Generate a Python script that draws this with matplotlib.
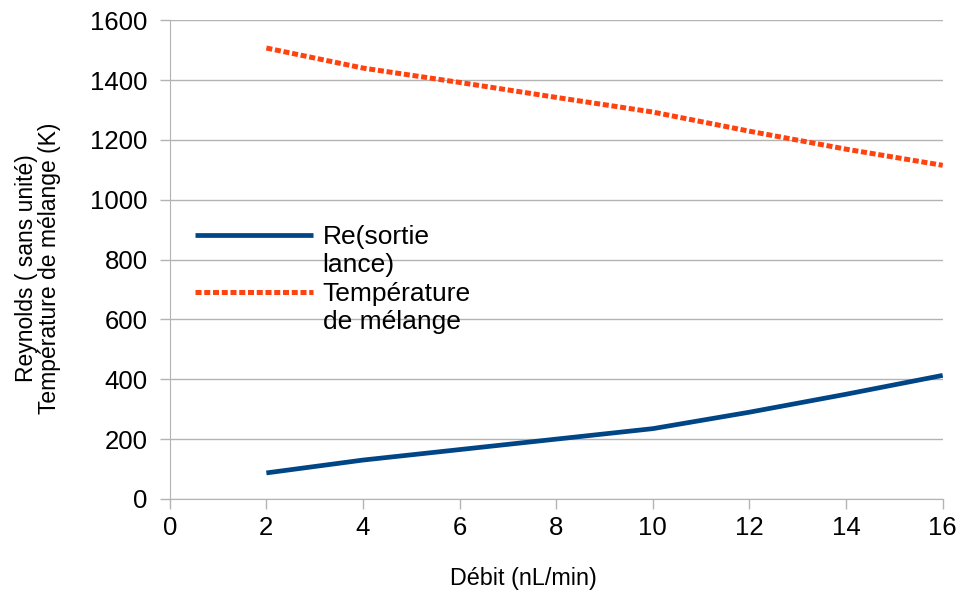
import numpy as np
import matplotlib.pyplot as plt
from matplotlib.lines import Line2D

plt.rcParams['font.family'] = ['Liberation Sans', 'DejaVu Sans']

# Data
debit = [2, 4, 6, 8, 10, 12, 14, 16]
reynolds = [87, 130, 165, 200, 235, 290, 350, 413]
temperature = [1507, 1440, 1392, 1342, 1293, 1229, 1169, 1115]

xticks = [0, 2, 4, 6, 8, 10, 12, 14, 16]
yticks = [0, 200, 400, 600, 800, 1000, 1200, 1400, 1600]

grey = '#b3b3b3'

fig = plt.figure(figsize=(9.59, 5.94), dpi=100)
ax = fig.add_axes([0.177, 0.160, 0.806, 0.806])

l1, = ax.plot(debit, reynolds, color='#004586', lw=3.4, solid_capstyle='butt')
l2, = ax.plot(debit, temperature, color='#ff420e', lw=3.6,
              linestyle=(0, (1.2, 0.55)))

ax.set_xlim(0, 16)
ax.set_ylim(0, 1600)
ax.set_xticks(xticks)
ax.set_yticks(yticks)
ax.yaxis.grid(True, color=grey, lw=1)
ax.set_axisbelow(True)
for s in ['top', 'right']:
    ax.spines[s].set_visible(False)
for s in ['left', 'bottom']:
    ax.spines[s].set_color(grey)
ax.tick_params(axis='both', colors=grey, labelcolor='black', labelsize=18.5,
               length=7, width=1)
ax.tick_params(axis='x', pad=5)
ax.tick_params(axis='y', pad=9)

ax.set_xlabel('Débit (nL/min)', fontsize=16.8)
ax.set_ylabel('Reynolds ( sans unité)\nTempérature de mélange (K)',
              fontsize=16.5, linespacing=1.0)
ax.xaxis.set_label_coords(0.457, -0.143)
ax.yaxis.set_label_coords(-0.141, 0.482)

# legend: second line of each label sits under the text, handle on first line
blank = Line2D([], [], color='none')
ax.legend([l1, blank, l2, blank],
          ['Re(sortie', 'lance)', 'Température', 'de mélange'],
          loc='upper left', bbox_to_anchor=(0.015, 0.600), frameon=False,
          fontsize=19, handlelength=4.5, handletextpad=0.35, borderpad=0,
          labelspacing=0.17)

fig.savefig('out.png', dpi=100)
